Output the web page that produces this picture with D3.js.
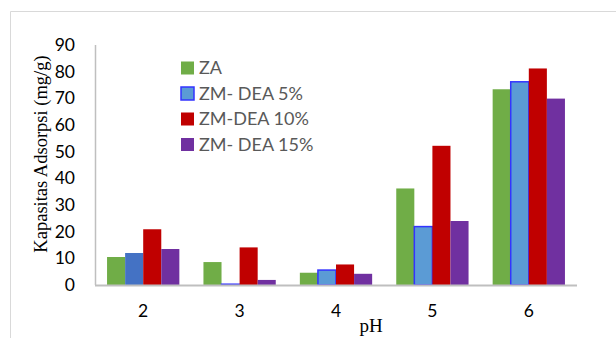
<!DOCTYPE html>
<html>
<head>
<meta charset="utf-8">
<script src="https://cdn.jsdelivr.net/npm/d3@7"></script>
<style>
  html, body { margin: 0; padding: 0; background: #fff; }
  svg { display: block; }
</style>
</head>
<body>
<svg id="chart" width="616" height="338"></svg>
<script>
// pH values on the x axis
const categories = ["2", "3", "4", "5", "6"];
// Adsorption capacity (mg/g) per adsorbent
const seriesNames = ["ZA", "ZM- DEA 5%", "ZM-DEA 10%", "ZM- DEA 15%"];
const za      = [10.5, 8.6, 4.6, 36.2, 73.4];
const zmDea5  = [12.0, 0.3, 5.6, 21.9, 76.2];
const zmDea10 = [20.9, 14.1, 7.7, 52.2, 81.2];
const zmDea15 = [13.5, 1.9, 4.2, 24.0, 69.9];
const yTicks  = [0, 10, 20, 30, 40, 50, 60, 70, 80, 90];

const seriesValues = [za, zmDea5, zmDea10, zmDea15];
const colors = ["#70AD47", "#5B9BD5", "#C00000", "#7030A0"];

const svg = d3.select("#chart");

// outer chart frame (top and left edges)
svg.append("path")
  .attr("d", "M10.5,338 V11.5 H616")
  .attr("fill", "none")
  .attr("stroke", "#d9d9d9")
  .attr("stroke-width", 1);

const plot = { left: 95, right: 577, top: 45, bottom: 285 };

const x = d3.scaleBand()
  .domain(categories)
  .range([plot.left, plot.right])
  .paddingInner(0.25)
  .paddingOuter(0.125);

const xs = d3.scaleBand()
  .domain(d3.range(seriesNames.length))
  .range([0, x.bandwidth()]);

const y = d3.scaleLinear()
  .domain([0, 90])
  .range([plot.bottom, plot.top]);

// bars
const groups = svg.append("g").selectAll("g")
  .data(seriesValues)
  .join("g");

groups.each(function(vals, si) {
  d3.select(this).selectAll("rect")
    .data(vals.map((v, ci) => ({ v, ci })))
    .join("rect")
    .attr("x", d => x(categories[d.ci]) + xs(si))
    .attr("y", d => y(d.v))
    .attr("width", xs.bandwidth())
    .attr("height", d => y(0) - y(d.v))
    .attr("fill", d => (si === 1 && d.ci === 0) ? "#4472C4" : colors[si])
    .attr("stroke", d => (si === 1 && d.ci > 0) ? "#3333FF" : "none")
    .attr("stroke-width", 1.5);
});

// x axis baseline
svg.append("line")
  .attr("x1", plot.left).attr("x2", plot.right)
  .attr("y1", y(0) + 0.5).attr("y2", y(0) + 0.5)
  .attr("stroke", "#bfbfbf").attr("stroke-width", 2);

// y axis line
svg.append("line")
  .attr("x1", plot.left + 0.5).attr("x2", plot.left + 0.5)
  .attr("y1", plot.top).attr("y2", y(0))
  .attr("stroke", "#bfbfbf").attr("stroke-width", 1.5);

// y tick labels
const yAxis = d3.axisLeft(y).tickValues(yTicks).tickSize(0).tickPadding(20);
const yg = svg.append("g")
  .attr("transform", `translate(${plot.left},0)`)
  .call(yAxis);
yg.select(".domain").remove();
yg.selectAll("text")
  .attr("font-family", "Lato, 'Open Sans', sans-serif")
  .attr("font-size", 17.5)
  .attr("fill", "#000");

// x tick labels
const xAxis = d3.axisBottom(x).tickSize(0).tickPadding(20);
const xg = svg.append("g")
  .attr("transform", `translate(0,${y(0)})`)
  .call(xAxis);
xg.select(".domain").remove();
xg.selectAll("text")
  .attr("font-family", "Lato, 'Open Sans', sans-serif")
  .attr("font-size", 17.5)
  .attr("fill", "#000");

// axis titles
svg.append("text")
  .attr("transform", "translate(47,154) rotate(-90)")
  .attr("text-anchor", "middle")
  .attr("font-family", "'Liberation Serif', 'Times New Roman', serif")
  .attr("font-size", 18.5)
  .attr("fill", "#000")
  .text("Kapasitas Adsorpsi (mg/g)");

svg.append("text")
  .attr("x", 371).attr("y", 332)
  .attr("text-anchor", "middle")
  .attr("font-family", "'Liberation Serif', 'Times New Roman', serif")
  .attr("font-size", 19)
  .attr("fill", "#000")
  .text("pH");

// legend
const legend = svg.append("g").selectAll("g")
  .data(seriesNames)
  .join("g")
  .attr("transform", (d, i) => `translate(181,${68 + i * 25.5})`);

legend.append("rect")
  .attr("x", 0).attr("y", -6.5)
  .attr("width", 13).attr("height", 13)
  .attr("fill", (d, i) => colors[i])
  .attr("stroke", (d, i) => i === 1 ? "#3333FF" : "none")
  .attr("stroke-width", 1.5);

legend.append("text")
  .attr("x", 18).attr("y", 0)
  .attr("dy", "0.36em")
  .attr("font-family", "Lato, 'Open Sans', sans-serif")
  .attr("font-size", 18)
  .attr("fill", "#595959")
  .text(d => d);
</script>
</body>
</html>
